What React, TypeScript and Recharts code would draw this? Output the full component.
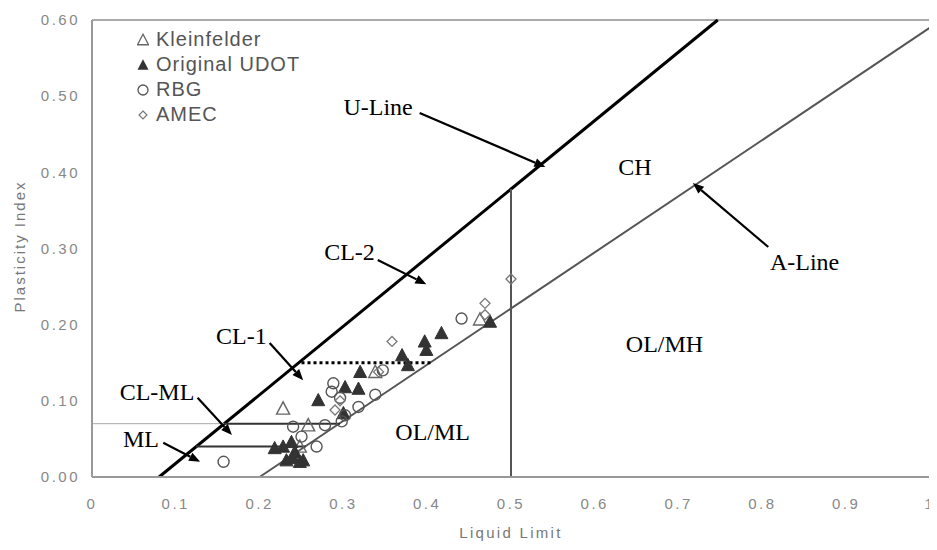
import React from "react";
import {
  ScatterChart,
  Scatter,
  XAxis,
  YAxis,
  ReferenceLine,
  ReferenceDot,
  Legend,
} from "recharts";

const xTicks = [0, 0.1, 0.2, 0.3, 0.4, 0.5, 0.6, 0.7, 0.8, 0.9, 1];
const yTicks = [0, 0.1, 0.2, 0.3, 0.4, 0.5, 0.6];

const seriesNames = ["Kleinfelder", "Original UDOT", "RBG", "AMEC"];

const kleinfelder = [
  { x: 0.228, y: 0.09 },
  { x: 0.258, y: 0.068 },
  { x: 0.248, y: 0.04 },
  { x: 0.338, y: 0.138 },
  { x: 0.463, y: 0.207 },
];

const originalUdot = [
  { x: 0.417, y: 0.189 },
  { x: 0.397, y: 0.178 },
  { x: 0.399, y: 0.167 },
  { x: 0.37, y: 0.16 },
  { x: 0.377, y: 0.147 },
  { x: 0.32, y: 0.138 },
  { x: 0.318, y: 0.116 },
  { x: 0.302, y: 0.118 },
  { x: 0.27, y: 0.101 },
  { x: 0.3, y: 0.084 },
  { x: 0.238, y: 0.046 },
  { x: 0.218, y: 0.038 },
  { x: 0.228, y: 0.04 },
  { x: 0.242, y: 0.033 },
  { x: 0.232, y: 0.022 },
  { x: 0.24, y: 0.025 },
  { x: 0.248, y: 0.02 },
  { x: 0.252, y: 0.022 },
  { x: 0.475, y: 0.204 },
];

const rbg = [
  { x: 0.157, y: 0.02 },
  { x: 0.441, y: 0.208 },
  { x: 0.288, y: 0.123 },
  { x: 0.286, y: 0.112 },
  { x: 0.296, y: 0.104 },
  { x: 0.338, y: 0.108 },
  { x: 0.318, y: 0.092 },
  { x: 0.302, y: 0.081 },
  { x: 0.298, y: 0.073 },
  { x: 0.278, y: 0.068 },
  { x: 0.24, y: 0.066 },
  { x: 0.25, y: 0.053 },
  { x: 0.268, y: 0.04 },
  { x: 0.347, y: 0.14 },
];

const amec = [
  { x: 0.358, y: 0.178 },
  { x: 0.469, y: 0.228 },
  { x: 0.469, y: 0.213 },
  { x: 0.5, y: 0.26 },
  { x: 0.342, y: 0.138 },
  { x: 0.29, y: 0.088 },
  { x: 0.296, y: 0.1 },
];

// boundary lines of the plasticity chart
const uLine = [{ x: 0.08, y: 0 }, { x: 0.7467, y: 0.6 }];
const aLine = [{ x: 0.2, y: 0 }, { x: 1, y: 0.59 }];
const llFifty = [{ x: 0.5, y: 0 }, { x: 0.5, y: 0.378 }];
const clMlLead = [{ x: 0, y: 0.07 }, { x: 0.158, y: 0.07 }];
const clMlTop = [{ x: 0.158, y: 0.07 }, { x: 0.296, y: 0.07 }];
const mlTop = [{ x: 0.124, y: 0.04 }, { x: 0.255, y: 0.04 }];
const cl1Top = [{ x: 0.25, y: 0.15 }, { x: 0.405, y: 0.15 }];

const zoneLabels = [
  { text: "U-Line", x: 0.3, y: 0.475 },
  { text: "CL-2", x: 0.277, y: 0.285 },
  { text: "CL-1", x: 0.148, y: 0.175 },
  { text: "CL-ML", x: 0.033, y: 0.101 },
  { text: "ML", x: 0.037, y: 0.039 },
  { text: "CH", x: 0.628, y: 0.396 },
  { text: "A-Line", x: 0.809, y: 0.272 },
  { text: "OL/ML", x: 0.362, y: 0.049 },
  { text: "OL/MH", x: 0.637, y: 0.164 },
];

const arrows = [
  [{ x: 0.391, y: 0.478 }, { x: 0.541, y: 0.407 }],
  [{ x: 0.341, y: 0.285 }, { x: 0.399, y: 0.253 }],
  [{ x: 0.212, y: 0.176 }, { x: 0.252, y: 0.127 }],
  [{ x: 0.126, y: 0.104 }, { x: 0.167, y: 0.055 }],
  [{ x: 0.085, y: 0.045 }, { x: 0.129, y: 0.02 }],
  [{ x: 0.807, y: 0.302 }, { x: 0.717, y: 0.386 }],
];

const axisFont = "'Liberation Sans', Arial, sans-serif";
const serif = "'Liberation Serif', 'Times New Roman', serif";

const triPts = (cx: number, cy: number, s: number) => {
  const h = s * 0.866;
  return `${cx},${cy - h / 2 - 1} ${cx - s / 2},${cy + h / 2} ${cx + s / 2},${cy + h / 2}`;
};

const OpenTriangle = (p: any) => (
  <polygon points={triPts(p.cx, p.cy, 13)} fill="none" stroke="#666" strokeWidth={1.4} />
);
const FilledTriangle = (p: any) => (
  <polygon points={triPts(p.cx, p.cy, 13)} fill="#333" stroke="#333" strokeWidth={1} />
);
const OpenCircle = (p: any) => (
  <circle cx={p.cx} cy={p.cy} r={5.5} fill="none" stroke="#555" strokeWidth={1.4} />
);
const Diamond = (p: any) => (
  <polygon
    points={`${p.cx},${p.cy - 5} ${p.cx + 5},${p.cy} ${p.cx},${p.cy + 5} ${p.cx - 5},${p.cy}`}
    fill="none"
    stroke="#777"
    strokeWidth={1.3}
  />
);

const Arrow = (p: any) => {
  const { x1, y1, x2, y2 } = p;
  const a = Math.atan2(y2 - y1, x2 - x1);
  const len = 11;
  const w = 4.5;
  const bx = x2 - len * Math.cos(a);
  const by = y2 - len * Math.sin(a);
  const pts = `${x2},${y2} ${bx + w * Math.sin(a)},${by - w * Math.cos(a)} ${bx - w * Math.sin(a)},${by + w * Math.cos(a)}`;
  return (
    <g>
      <line x1={x1} y1={y1} x2={bx} y2={by} stroke="#000" strokeWidth={2.2} />
      <polygon points={pts} fill="#000" />
    </g>
  );
};

const legendIcons = [
  <polygon points={triPts(6, 7, 11)} fill="none" stroke="#666" strokeWidth={1.3} />,
  <polygon points={triPts(6, 7, 11)} fill="#333" />,
  <circle cx={6} cy={7} r={5} fill="none" stroke="#555" strokeWidth={1.3} />,
  <polygon points="6,3 10,7 6,11 2,7" fill="none" stroke="#777" strokeWidth={1.2} />,
];

const SeriesLegend = () => (
  <div style={{ fontFamily: axisFont, fontSize: 20, letterSpacing: 1, color: "#555" }}>
    {seriesNames.map((name, i) => (
      <div key={name} style={{ display: "flex", alignItems: "center", height: 25 }}>
        <svg width={12} height={14} style={{ marginRight: 7 }}>
          {legendIcons[i]}
        </svg>
        <span>{name}</span>
      </div>
    ))}
  </div>
);

const YTitle = (props: any) => {
  const vb = props.viewBox || { x: 0, y: 12, height: 457 };
  const cx = vb.x + 17;
  const cy = vb.y + vb.height / 2 - 2;
  return (
    <text
      x={cx}
      y={cy}
      transform={`rotate(-90, ${cx}, ${cy})`}
      textAnchor="middle"
      fontFamily={axisFont}
      fontSize={15}
      letterSpacing={2}
      fill="#777"
    >
      Plasticity Index
    </text>
  );
};

const ZoneText = (text: string) => (p: any) => (
  <text x={p.cx} y={p.cy} fontFamily={serif} fontSize={24} fill="#000">
    {text}
  </text>
);

export default function App() {
  return (
    <div>
      <style>{`.recharts-surface { overflow: visible; }`}</style>
      <ScatterChart
        width={929}
        height={540}
        margin={{ top: 12, right: 7, bottom: 5, left: 0 }}
      >
        <XAxis
          type="number"
          dataKey="x"
          domain={[0, 1]}
          ticks={xTicks}
          tickFormatter={(v: number) => (v === 0 || v === 1 ? String(v) : v.toFixed(1))}
          tickLine={false}
          tickMargin={15}
          height={66}
          axisLine={{ stroke: "#999", strokeWidth: 2 }}
          tick={{ fill: "#888", fontFamily: axisFont, fontSize: 15, letterSpacing: 2.5 }}
          label={{
            value: "Liquid Limit",
            position: "insideBottom",
            offset: 5,
            fill: "#777",
            fontFamily: axisFont,
            fontSize: 15,
            letterSpacing: 2.3,
          }}
        />
        <YAxis
          type="number"
          dataKey="y"
          domain={[0, 0.6]}
          ticks={yTicks}
          tickFormatter={(v: number) => v.toFixed(2)}
          tickLine={false}
          tickMargin={6}
          width={84}
          axisLine={{ stroke: "#999", strokeWidth: 2 }}
          tick={{ fill: "#888", fontFamily: axisFont, fontSize: 15, letterSpacing: 2.5 }}
          label={<YTitle />}
        />
        <ReferenceLine y={0.6} stroke="#aaa" strokeWidth={2} />
        <ReferenceLine x={1} stroke="#aaa" strokeWidth={2} />

        <ReferenceLine segment={uLine} stroke="#000" strokeWidth={3} />
        <ReferenceLine segment={aLine} stroke="#555" strokeWidth={2} />
        <ReferenceLine segment={llFifty} stroke="#555" strokeWidth={2} />
        <ReferenceLine segment={clMlLead} stroke="#aaa" strokeWidth={1} />
        <ReferenceLine segment={clMlTop} stroke="#333" strokeWidth={2} />
        <ReferenceLine segment={mlTop} stroke="#333" strokeWidth={2} />
        <ReferenceLine segment={cl1Top} stroke="#000" strokeWidth={3} strokeDasharray="3 3" />

        {arrows.map((seg, i) => (
          <ReferenceLine key={`arrow-${i}`} segment={seg} shape={Arrow} />
        ))}
        {zoneLabels.map((z) => (
          <ReferenceDot key={z.text} x={z.x} y={z.y} r={1} shape={ZoneText(z.text)} />
        ))}

        <Scatter name="Kleinfelder" data={kleinfelder} shape={OpenTriangle} isAnimationActive={false} />
        <Scatter name="Original UDOT" data={originalUdot} shape={FilledTriangle} isAnimationActive={false} />
        <Scatter name="RBG" data={rbg} shape={OpenCircle} isAnimationActive={false} />
        <Scatter name="AMEC" data={amec} shape={Diamond} isAnimationActive={false} />

        <Legend
          layout="vertical"
          align="center"
          verticalAlign="middle"
          content={<SeriesLegend />}
          wrapperStyle={{ left: 129, top: 19, width: 220, height: 110 }}
        />
      </ScatterChart>
    </div>
  );
}
